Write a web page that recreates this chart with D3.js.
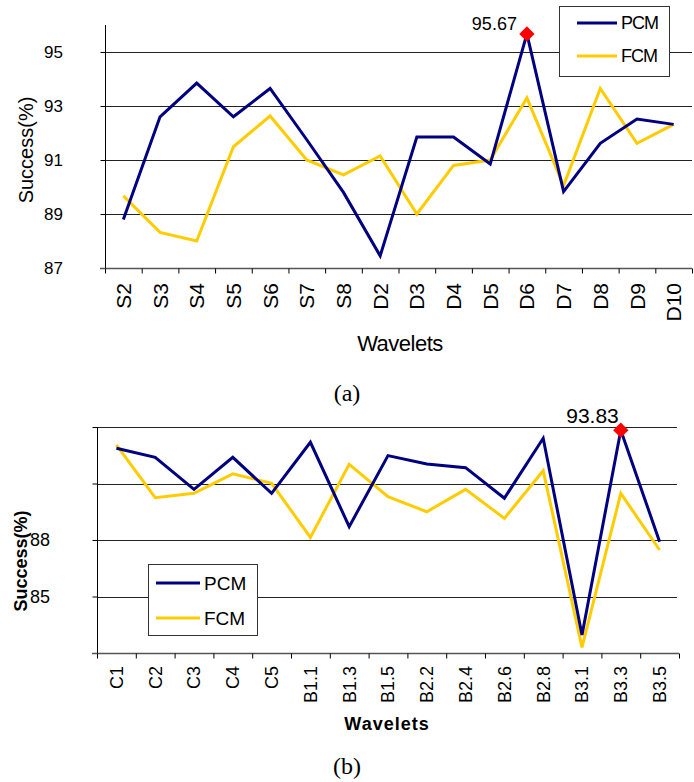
<!DOCTYPE html>
<html>
<head>
<meta charset="utf-8">
<script src="https://cdn.jsdelivr.net/npm/d3@7"></script>
<style>
  body { margin: 0; background: #fff; }
  text { font-family: "Liberation Sans", Arial, sans-serif; }
  .narrow { font-family: "Liberation Sans Narrow", "Arial Narrow", "Liberation Sans", sans-serif; }
  .serif { font-family: "Liberation Serif", "Times New Roman", serif; }
</style>
</head>
<body>
<div id="chart"></div>
<script>
// DATA
var topCats = ["S2","S3","S4","S5","S6","S7","S8","D2","D3","D4","D5","D6","D7","D8","D9","D10"];
var topPCM = [88.8, 92.6, 93.85, 92.6, 93.65, 91.75, 89.8, 87.45, 91.85, 91.85, 90.85, 95.67, 89.83, 91.62, 92.52, 92.32];
var topFCM = [89.67, 88.32, 88.0, 91.49, 92.63, 91.0, 90.45, 91.15, 89.0, 90.8, 91.0, 93.3, 90.05, 93.65, 91.62, 92.32];
var topTicks = [87, 89, 91, 93, 95];
var topTickLabels = ["87", "89", "91", "93", "95"];

var botCats = ["C1","C2","C3","C4","C5","B1.1","B1.3","B1.5","B2.2","B2.4","B2.6","B2.8","B3.1","B3.3","B3.5"];
var botPCM = [92.87, 92.39, 90.69, 92.39, 90.48, 93.19, 88.71, 92.48, 92.04, 91.84, 90.22, 93.40, 82.96, 93.83, 87.91];
var botFCM = [93.05, 90.25, 90.48, 91.51, 91.01, 88.14, 92.02, 90.3, 89.5, 90.69, 89.15, 91.68, 82.3, 90.48, 87.47];
var botTicks = [82, 85, 88, 91, 94];
var botTickLabels = ["", "85", "88", "", ""];

var seriesNames = ["PCM", "FCM"];
var seriesColors = ["#000080", "#FFCC00"];

var width = 694, height = 782;
var svg = d3.select("#chart").append("svg")
    .attr("width", width)
    .attr("height", height);

function drawPanel(opt) {
    var g = svg.append("g");
    var n = opt.cats.length;

    var x = d3.scaleBand().domain(opt.cats).range([opt.left, opt.right]).padding(0);
    var xEdge = d3.scaleLinear().domain([0, n]).range([opt.left, opt.right]);
    var y = d3.scaleLinear().domain(opt.yDomain).range([opt.bottom, opt.top]);

    // gridlines
    g.selectAll(".grid")
        .data(opt.ticks.filter(function(t){ return t !== opt.yDomain[0]; }))
        .enter().append("line")
        .attr("x1", opt.left).attr("x2", opt.gridRight)
        .attr("y1", function(d){ return Math.round(y(d)) + 0.5; })
        .attr("y2", function(d){ return Math.round(y(d)) + 0.5; })
        .attr("stroke", "#222").attr("stroke-width", 1);

    // y axis
    var yAxis = d3.axisLeft(y).tickValues(opt.ticks).tickSize(5).tickFormat("");
    var ya = g.append("g").attr("transform", "translate(" + (opt.left + 0.5) + ",0)").call(yAxis);
    ya.select(".domain").attr("d", "M0," + opt.top + "V" + (opt.bottom + 5)).attr("stroke", "#000");
    ya.selectAll(".tick line").attr("stroke", "#000");

    g.selectAll(".ylab")
        .data(opt.ticks)
        .enter().append("text")
        .attr("x", opt.ylabX)
        .attr("y", function(d){ return y(d) + 6; })
        .attr("text-anchor", "end")
        .attr("font-size", opt.ylabSize)
        .attr("fill", "#000")
        .text(function(d, i){ return opt.tickLabels[i]; });

    // x axis with boundary ticks
    var xAxis = d3.axisBottom(xEdge).tickValues(d3.range(n + 1)).tickSize(5).tickFormat("");
    var xa = g.append("g").attr("transform", "translate(0," + (opt.bottom + 0.5) + ")").call(xAxis);
    xa.select(".domain").attr("d", "M" + (opt.left - 5) + ",0H" + opt.right).attr("stroke", "#555").attr("stroke-width", 1.5);
    xa.selectAll(".tick line").attr("stroke", "#000");

    g.selectAll(".xlab")
        .data(opt.cats)
        .enter().append("text")
        .attr("class", opt.fontClass)
        .attr("transform", function(d){
            return "translate(" + (x(d) + x.bandwidth() / 2 + opt.xlabSize * 0.36) + "," + opt.xlabY + ") rotate(-90)";
        })
        .attr("text-anchor", "end")
        .attr("font-size", opt.xlabSize)
        .attr("fill", "#000")
        .text(function(d){ return d; });

    // lines (FCM first so PCM on top)
    var line = d3.line()
        .x(function(d, i){ return x(opt.cats[i]) + x.bandwidth() / 2; })
        .y(function(d){ return y(d); });

    [opt.fcm, opt.pcm].forEach(function(vals, k){
        g.append("path")
            .datum(vals)
            .attr("d", line)
            .attr("fill", "none")
            .attr("stroke", seriesColors[1 - k])
            .attr("stroke-width", 3)
            .attr("stroke-linejoin", "miter");
    });

    // highlighted max point
    var mi = d3.maxIndex(opt.pcm);
    var px = x(opt.cats[mi]) + x.bandwidth() / 2, py = y(opt.pcm[mi]);
    g.append("path")
        .attr("d", d3.symbol().type(d3.symbolDiamond2).size(150)())
        .attr("transform", "translate(" + px + "," + py + ")")
        .attr("fill", "#ff0000");
    g.append("text")
        .attr("class", opt.fontClass)
        .attr("x", px + opt.annDx)
        .attr("y", py + opt.annDy)
        .attr("text-anchor", "end")
        .attr("font-size", opt.annSize)
        .attr("fill", "#000")
        .text(opt.pcm[mi].toFixed(2));

    // axis titles
    g.append("text")
        .attr("transform", "translate(" + opt.ytitleX + "," + opt.ytitleY + ") rotate(-90)")
        .attr("text-anchor", "middle")
        .attr("font-size", opt.ytitleSize)
        .attr("font-weight", opt.titleWeight)
        .attr("fill", "#000")
        .text("Success(%)");
    g.append("text")
        .attr("class", opt.fontClass)
        .attr("x", opt.xtitleX).attr("y", opt.xtitleY)
        .attr("text-anchor", "middle")
        .attr("font-size", opt.xtitleSize)
        .attr("font-weight", opt.titleWeight)
        .attr("letter-spacing", opt.xtitleSpacing)
        .attr("fill", "#000")
        .text("Wavelets");

    // legend
    var lg = g.append("g").attr("transform", "translate(" + opt.legX + "," + opt.legY + ")");
    lg.append("rect")
        .attr("x", 0.5).attr("y", 0.5)
        .attr("width", opt.legW).attr("height", opt.legH)
        .attr("fill", "#fff").attr("stroke", "#333").attr("stroke-width", 1);
    seriesNames.forEach(function(name, i){
        var ly = opt.legRow0 + i * opt.legRowStep;
        lg.append("line")
            .attr("x1", opt.legLine0).attr("x2", opt.legLine1)
            .attr("y1", ly).attr("y2", ly)
            .attr("stroke", seriesColors[i]).attr("stroke-width", 3);
        lg.append("text")
            .attr("class", opt.fontClass)
            .attr("x", opt.legLine1 + 4)
            .attr("y", ly + opt.legSize * 0.36)
            .attr("font-size", opt.legSize)
            .attr("letter-spacing", opt.legSpacing)
            .attr("fill", "#000")
            .text(name);
    });

    // caption
    svg.append("text")
        .attr("class", "serif")
        .attr("x", 347).attr("y", opt.capY)
        .attr("text-anchor", "middle")
        .attr("font-size", 24)
        .attr("fill", "#000")
        .text(opt.caption);
}

drawPanel({
    cats: topCats, pcm: topPCM, fcm: topFCM, ticks: topTicks, tickLabels: topTickLabels,
    yDomain: [87, 96], left: 105, right: 692, gridRight: 692, top: 25, bottom: 268,
    fontClass: "narrow", ylabX: 63, ylabSize: 17, xlabY: 283, xlabSize: 21,
    annDx: -10, annDy: -4, annSize: 18,
    ytitleX: 33, ytitleY: 150, ytitleSize: 20, titleWeight: "normal",
    xtitleX: 400, xtitleY: 351, xtitleSize: 22, xtitleSpacing: -0.5,
    legX: 559, legY: 6, legW: 110, legH: 70, legRow0: 17, legRowStep: 33,
    legLine0: 18, legLine1: 58, legSize: 18, legSpacing: -1,
    caption: "(a)", capY: 401
});

drawPanel({
    cats: botCats, pcm: botPCM, fcm: botFCM, ticks: botTicks, tickLabels: botTickLabels,
    yDomain: [82, 94], left: 97, right: 679, gridRight: 677, top: 427, bottom: 653,
    fontClass: "", ylabX: 50, ylabSize: 18, xlabY: 666, xlabSize: 18,
    annDx: -2, annDy: -7, annSize: 21,
    ytitleX: 27, ytitleY: 561, ytitleSize: 18, titleWeight: "bold",
    xtitleX: 387, xtitleY: 730, xtitleSize: 18, xtitleSpacing: 1,
    legX: 148, legY: 564, legW: 109, legH: 71, legRow0: 19, legRowStep: 35,
    legLine0: 8, legLine1: 52, legSize: 19, legSpacing: 0,
    caption: "(b)", capY: 774
});
</script>
</body>
</html>
